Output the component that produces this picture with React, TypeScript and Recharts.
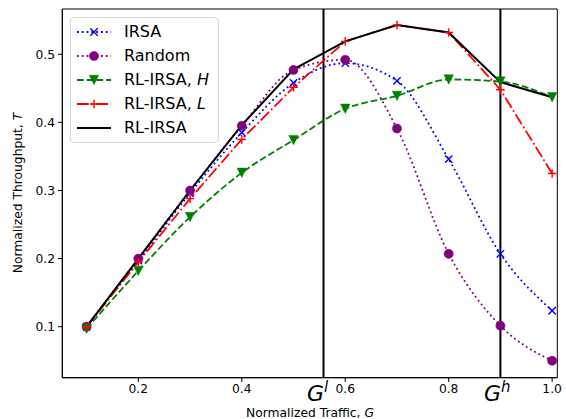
import { LineChart, Line, XAxis, YAxis, ReferenceLine, ReferenceArea } from "recharts"

// values
const traffic = [0.1, 0.2, 0.3, 0.4, 0.5, 0.6, 0.7, 0.8, 0.9, 1.0]
const irsa = [0.1, 0.197, 0.296, 0.385, 0.458, 0.487, 0.461, 0.346, 0.207, 0.1235]
const random = [0.1, 0.2, 0.3, 0.395, 0.477, 0.492, 0.391, 0.207, 0.1015, 0.05]
const rlHigh = [0.097, 0.182, 0.261, 0.326, 0.374, 0.42, 0.439, 0.463, 0.46, 0.437]
const rlLow = [0.1, 0.195, 0.288, 0.375, 0.4515, 0.519, 0.543, 0.532, 0.448, 0.325]
const rlIrsa = [0.1, 0.2, 0.3, 0.396, 0.478, 0.519, 0.543, 0.532, 0.459, 0.437]

const xTicks = [0.2, 0.4, 0.6, 0.8, 1.0]
const yTicks = [0.1, 0.2, 0.3, 0.4, 0.5]
const gLow = 0.558
const gHigh = 0.9

const data = traffic.map((g, i) => ({
  g,
  irsa: irsa[i],
  random: random[i],
  rlHigh: rlHigh[i],
  rlLow: rlLow[i],
  rlIrsa: rlIrsa[i],
}))

const FONT = "'DejaVu Sans', sans-serif"
const BLUE = "#0000ff"
const PURPLE = "#800080"
const GREEN = "#008000"
const RED = "#ff0000"

const DOTTED = "1.8 3"
const DASHED = "6.8 2.9"
const DASHDOT = "11.7 2.9 1.8 2.9"

const X_DOMAIN = [0.053, 1.01]
const Y_DOMAIN = [0.0251, 0.5665]

type MarkProps = { cx: number; cy: number }

const Cross = ({ cx, cy }: MarkProps) => (
  <path
    d={`M${cx - 3.7},${cy - 3.7}L${cx + 3.7},${cy + 3.7}M${cx - 3.7},${cy + 3.7}L${cx + 3.7},${cy - 3.7}`}
    stroke={BLUE}
    strokeWidth={1.4}
    strokeDasharray="none"
    fill="none"
  />
)

const Circle = ({ cx, cy }: MarkProps) => (
  <circle cx={cx} cy={cy} r={4.6} fill={PURPLE} stroke={PURPLE} strokeWidth={0.5} strokeDasharray="none" />
)

const TriDown = ({ cx, cy }: MarkProps) => (
  <path
    d={`M${cx - 4.7},${cy - 4.7}L${cx + 4.7},${cy - 4.7}L${cx},${cy + 4.7}Z`}
    fill={GREEN}
    stroke={GREEN}
    strokeWidth={0.5}
    strokeDasharray="none"
  />
)

const Plus = ({ cx, cy }: MarkProps) => (
  <path
    d={`M${cx - 4.3},${cy}L${cx + 4.3},${cy}M${cx},${cy - 4.3}L${cx},${cy + 4.3}`}
    stroke={RED}
    strokeWidth={1.4}
    strokeDasharray="none"
    fill="none"
  />
)

const GLabel = ({ x, y, sup }: { x: number; y: number; sup: string }) => (
  <text x={x - 16.5} y={y} fontFamily={FONT} fontSize={22} fontStyle="italic" fill="#000">
    G
    <tspan dy={-9} fontSize={15}>{sup}</tspan>
  </text>
)

const legendRows = [
  { name: "IRSA", italic: "", color: BLUE, dash: DOTTED, mark: Cross },
  { name: "Random", italic: "", color: PURPLE, dash: DOTTED, mark: Circle },
  { name: "RL-IRSA, ", italic: "H", color: GREEN, dash: DASHED, mark: TriDown },
  { name: "RL-IRSA, ", italic: "L", color: RED, dash: DASHDOT, mark: Plus },
  { name: "RL-IRSA", italic: "", color: "#000", dash: "none", mark: null },
]

function ChartLegend() {
  return (
    <div
      style={{
        position: "absolute",
        left: 70,
        top: 17,
        width: 147,
        height: 124,
        border: "1px solid #d5d5d5",
        borderRadius: 4,
        background: "rgba(255,255,255,0.8)",
        fontFamily: FONT,
        fontSize: 16,
        color: "#000",
      }}
    >
      {legendRows.map((r, i) => {
        const M = r.mark
        return (
          <div key={i} style={{ position: "absolute", left: 0, top: 2 + i * 24, height: 24, display: "flex", alignItems: "center" }}>
            <svg width={50} height={24} style={{ display: "block" }}>
              <line x1={6} x2={40} y1={12} y2={12} stroke={r.color} strokeWidth={r.mark ? 1.8 : 2} strokeDasharray={r.dash} />
              {M && <M cx={23} cy={12} />}
            </svg>
            <span style={{ marginLeft: 3, whiteSpace: "nowrap", lineHeight: "24px" }}>
              {r.name}
              {r.italic && <i>{r.italic}</i>}
            </span>
          </div>
        )
      })}
    </div>
  )
}

export default function App() {
  return (
    <div style={{ position: "relative", width: 566, height: 419, background: "#fff" }}>
      <style>{`body{margin:0}`}</style>
      <LineChart width={566} height={419} data={data} margin={{ top: 9, right: 8.7, bottom: 0, left: 0 }}>
        <XAxis
          dataKey="g"
          type="number"
          domain={X_DOMAIN}
          allowDataOverflow
          ticks={xTicks}
          tickFormatter={(v: number) => v.toFixed(1)}
          height={41.3}
          stroke="#000"
          tick={{ fill: "#000", fontSize: 12.3, fontFamily: FONT }}
          tickSize={4.3}
          tickMargin={2}
          label={() => (
            <text x={310} y={416.5} textAnchor="middle" fontFamily={FONT} fontSize={12.3} fill="#000">
              Normalized Traffic, <tspan fontStyle="italic">G</tspan>
            </text>
          )}
        />
        <YAxis
          type="number"
          domain={Y_DOMAIN}
          allowDataOverflow
          ticks={yTicks}
          tickFormatter={(v: number) => v.toFixed(1)}
          width={62.3}
          stroke="#000"
          tick={{ fill: "#000", fontSize: 12.3, fontFamily: FONT }}
          tickSize={4.3}
          tickMargin={3}
          label={() => (
            <text
              x={0}
              y={0}
              transform="translate(21.5,193) rotate(-90)"
              textAnchor="middle"
              fontFamily={FONT}
              fontSize={12.3}
              fill="#000"
            >
              Normalized Throughput, <tspan fontStyle="italic">T</tspan>
            </text>
          )}
        />
        <ReferenceArea x1={X_DOMAIN[0]} x2={X_DOMAIN[1]} y1={Y_DOMAIN[0]} y2={Y_DOMAIN[1]} fill="none" stroke="#000" strokeWidth={1} />
        <ReferenceLine
          x={gLow}
          stroke="#000"
          strokeWidth={2}
          label={(p: any) => <GLabel x={p.viewBox.x} y={400.5} sup="l" />}
        />
        <ReferenceLine
          x={gHigh}
          stroke="#000"
          strokeWidth={2}
          label={(p: any) => <GLabel x={p.viewBox.x} y={400.5} sup="h" />}
        />
        <Line
          dataKey="irsa"
          type="monotone"
          stroke={BLUE}
          strokeWidth={1.8}
          strokeDasharray={DOTTED}
          dot={(p: any) => <Cross key={`irsa-${p.index}`} cx={p.cx} cy={p.cy} />}
          isAnimationActive={false}
        />
        <Line
          dataKey="random"
          type="monotone"
          stroke={PURPLE}
          strokeWidth={1.8}
          strokeDasharray={DOTTED}
          dot={(p: any) => <Circle key={`rnd-${p.index}`} cx={p.cx} cy={p.cy} />}
          isAnimationActive={false}
        />
        <Line
          dataKey="rlHigh"
          type="monotone"
          stroke={GREEN}
          strokeWidth={1.8}
          strokeDasharray={DASHED}
          dot={(p: any) => <TriDown key={`h-${p.index}`} cx={p.cx} cy={p.cy} />}
          isAnimationActive={false}
        />
        <Line
          dataKey="rlLow"
          type="linear"
          stroke={RED}
          strokeWidth={1.8}
          strokeDasharray={DASHDOT}
          dot={(p: any) => <Plus key={`l-${p.index}`} cx={p.cx} cy={p.cy} />}
          isAnimationActive={false}
        />
        <Line dataKey="rlIrsa" type="linear" stroke="#000" strokeWidth={2} dot={false} isAnimationActive={false} />
      </LineChart>
      <ChartLegend />
    </div>
  )
}
